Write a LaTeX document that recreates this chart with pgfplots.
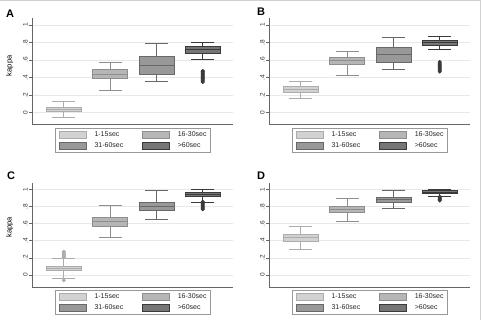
\documentclass[border=0pt]{standalone}
\usepackage{pgfplots}
\pgfplotsset{compat=1.18}
\usepgfplotslibrary{statistics}
\usepackage{fontspec}
\setmainfont{Liberation Sans}

% fill / outline shades for the four duration groups
\definecolor{gAf}{RGB}{210,210,210}\definecolor{gAd}{RGB}{172,172,172}
\definecolor{gBf}{RGB}{182,182,182}\definecolor{gBd}{RGB}{142,142,142}
\definecolor{gCf}{RGB}{152,152,152}\definecolor{gCd}{RGB}{104,104,104}
\definecolor{gDf}{RGB}{118,118,118}\definecolor{gDd}{RGB}{58,58,58}

\pgfplotsset{
  panel/.style={
    scale only axis, width=201pt,
    xmin=0.32, xmax=4.66,
    axis lines*=left,
    axis line style={black!60, line width=0.6pt},
    xtick=\empty,
    ytick={0,0.2,0.4,0.6,0.8,1},
    yticklabels={0,.2,.4,.6,.8,1},
    yticklabel style={rotate=90, anchor=south, inner sep=1.5pt,
      font=\fontsize{6.5}{7}\selectfont, text=black!80},
    tick align=outside, major tick length=3pt,
    tick style={black!60, line width=0.5pt},
    ymajorgrids, grid style={black!9, line width=0.5pt},
    clip=false,
    legend columns=2, legend cell align=left,
    legend style={at={(axis description cs:0.5,0)}, anchor=north,
      draw=black!40, line width=0.5pt,
      font=\fontsize{7}{8}\selectfont, text=black!85,
      inner xsep=3pt, inner ysep=2.5pt, row sep=3.5pt,
      /tikz/every odd column/.append style={column sep=8pt},
      /tikz/every even column/.append style={column sep=18pt},
      nodes={inner sep=0.5pt}},
    ylabel style={font=\fontsize{7.5}{9}\selectfont, rotate=0, anchor=center},
  },
  swatch/.style 2 args={legend image code/.code={%
    \draw[fill=#1, draw=#2, line width=0.5pt] (0pt,-3.6pt) rectangle (27pt,3.6pt);}},
  grp/.style 2 args={draw=#2, fill=#1, line width=0.6pt, forget plot,
    mark=*, mark size=1.6pt, mark options={fill=#2, draw=#2, solid},
    boxplot/draw direction=y,
    boxplot/box extend=0.756, boxplot/whisker extend=0.5},
}

\newcommand{\durationlegend}{%
  \addlegendimage{swatch={gAf}{gAd}}\addlegendentry{1-15sec}
  \addlegendimage{swatch={gBf}{gBd}}\addlegendentry{16-30sec}
  \addlegendimage{swatch={gCf}{gCd}}\addlegendentry{31-60sec}
  \addlegendimage{swatch={gDf}{gDd}}\addlegendentry{>60sec}
}

\begin{document}
\begin{tikzpicture}
\useasboundingbox (0pt,0pt) rectangle (481pt,320pt);
\draw[black!18, line width=0.6pt] (0pt,319.7pt) -- (480.7pt,319.7pt) -- (480.7pt,0pt);

% ---------------- A ----------------
\begin{axis}[panel, at={(32.3pt,195.7pt)}, anchor=south west,
  height=106.3pt, ymin=-0.132, ymax=1.08,
  ylabel={kappa}, ylabel style={at={(axis description cs:-0.1124,0.55)}},
  legend style={yshift=-3.7pt}]
\durationlegend
\addplot[grp={gAf}{gAd}, boxplot prepared={draw position=1,
  lower whisker=-0.049, lower quartile=0.019, median=0.042,
  upper quartile=0.065, upper whisker=0.133}] coordinates {};
\addplot[grp={gBf}{gBd}, boxplot prepared={draw position=2,
  lower whisker=0.259, lower quartile=0.388, median=0.433,
  upper quartile=0.494, upper whisker=0.574}] coordinates {};
\addplot[grp={gCf}{gCd}, boxplot prepared={draw position=3,
  lower whisker=0.357, lower quartile=0.437, median=0.544,
  upper quartile=0.643, upper whisker=0.791}] coordinates {};
\addplot[grp={gDf}{gDd}, boxplot prepared={draw position=4,
  lower whisker=0.608, lower quartile=0.681, median=0.726,
  upper quartile=0.760, upper whisker=0.802}] coordinates {
  (4,0.350) (4,0.360) (4,0.370) (4,0.380) (4,0.390) (4,0.400) (4,0.410)
  (4,0.420) (4,0.430) (4,0.440) (4,0.450) (4,0.460) (4,0.470) (4,0.478)};
\end{axis}

% ---------------- B ----------------
\begin{axis}[panel, at={(269.3pt,195.7pt)}, anchor=south west,
  height=106.3pt, ymin=-0.132, ymax=1.08,
  legend style={yshift=-3.5pt}]
\durationlegend
\addplot[grp={gAf}{gAd}, boxplot prepared={draw position=1,
  lower whisker=0.167, lower quartile=0.232, median=0.266,
  upper quartile=0.304, upper whisker=0.361}] coordinates {};
\addplot[grp={gBf}{gBd}, boxplot prepared={draw position=2,
  lower whisker=0.430, lower quartile=0.555, median=0.597,
  upper quartile=0.635, upper whisker=0.700}] coordinates {};
\addplot[grp={gCf}{gCd}, boxplot prepared={draw position=3,
  lower whisker=0.494, lower quartile=0.574, median=0.669,
  upper quartile=0.745, upper whisker=0.859}] coordinates {};
\addplot[grp={gDf}{gDd}, boxplot prepared={draw position=4,
  lower whisker=0.722, lower quartile=0.768, median=0.802,
  upper quartile=0.825, upper whisker=0.867}] coordinates {
  (4,0.468) (4,0.478) (4,0.488) (4,0.498) (4,0.508) (4,0.518)
  (4,0.528) (4,0.538) (4,0.548) (4,0.558) (4,0.568) (4,0.580)};
\end{axis}

% ---------------- C ----------------
\begin{axis}[panel, at={(32.3pt,32.7pt)}, anchor=south west,
  height=104.6pt, ymin=-0.144, ymax=1.077,
  ylabel={kappa}, ylabel style={at={(axis description cs:-0.1124,0.575)}},
  legend style={yshift=-2.7pt}]
\durationlegend
\addplot[grp={gAf}{gAd}, boxplot prepared={draw position=1,
  lower whisker=-0.043, lower quartile=0.051, median=0.078,
  upper quartile=0.105, upper whisker=0.195}] coordinates {
  (1,-0.062) (1,0.206) (1,0.215) (1,0.225) (1,0.235) (1,0.245)
  (1,0.255) (1,0.265) (1,0.272)};
\addplot[grp={gBf}{gBd}, boxplot prepared={draw position=2,
  lower whisker=0.440, lower quartile=0.568, median=0.623,
  upper quartile=0.677, upper whisker=0.813}] coordinates {};
\addplot[grp={gCf}{gCd}, boxplot prepared={draw position=3,
  lower whisker=0.650, lower quartile=0.755, median=0.802,
  upper quartile=0.848, upper whisker=0.988}] coordinates {};
\addplot[grp={gDf}{gDd}, boxplot prepared={draw position=4,
  lower whisker=0.848, lower quartile=0.922, median=0.946,
  upper quartile=0.969, upper whisker=1.0}] coordinates {
  (4,0.767) (4,0.777) (4,0.787) (4,0.797) (4,0.807) (4,0.817)
  (4,0.827) (4,0.837) (4,0.847) (4,0.856)};
\end{axis}

% ---------------- D ----------------
\begin{axis}[panel, at={(269.3pt,32.7pt)}, anchor=south west,
  height=104.6pt, ymin=-0.144, ymax=1.077,
  legend style={yshift=-2.7pt}]
\durationlegend
\addplot[grp={gAf}{gAd}, boxplot prepared={draw position=1,
  lower whisker=0.300, lower quartile=0.393, median=0.436,
  upper quartile=0.475, upper whisker=0.564}] coordinates {};
\addplot[grp={gBf}{gBd}, boxplot prepared={draw position=2,
  lower whisker=0.626, lower quartile=0.732, median=0.767,
  upper quartile=0.805, upper whisker=0.895}] coordinates {};
\addplot[grp={gCf}{gCd}, boxplot prepared={draw position=3,
  lower whisker=0.778, lower quartile=0.848, median=0.879,
  upper quartile=0.911, upper whisker=0.992}] coordinates {};
\addplot[grp={gDf}{gDd}, boxplot prepared={draw position=4,
  lower whisker=0.918, lower quartile=0.953, median=0.969,
  upper quartile=0.984, upper whisker=1.0}] coordinates {
  (4,0.868) (4,0.876) (4,0.884) (4,0.892) (4,0.900) (4,0.908) (4,0.914)};
\end{axis}

% panel letters
\begin{scope}[every node/.style={anchor=base west, inner sep=0pt,
    font=\bfseries\fontsize{11}{13}\selectfont}]
\node at (6pt,302.7pt) {A};
\node at (257pt,304.3pt) {B};
\node at (7pt,140pt) {C};
\node at (257pt,140pt) {D};
\end{scope}
\end{tikzpicture}
\end{document}
